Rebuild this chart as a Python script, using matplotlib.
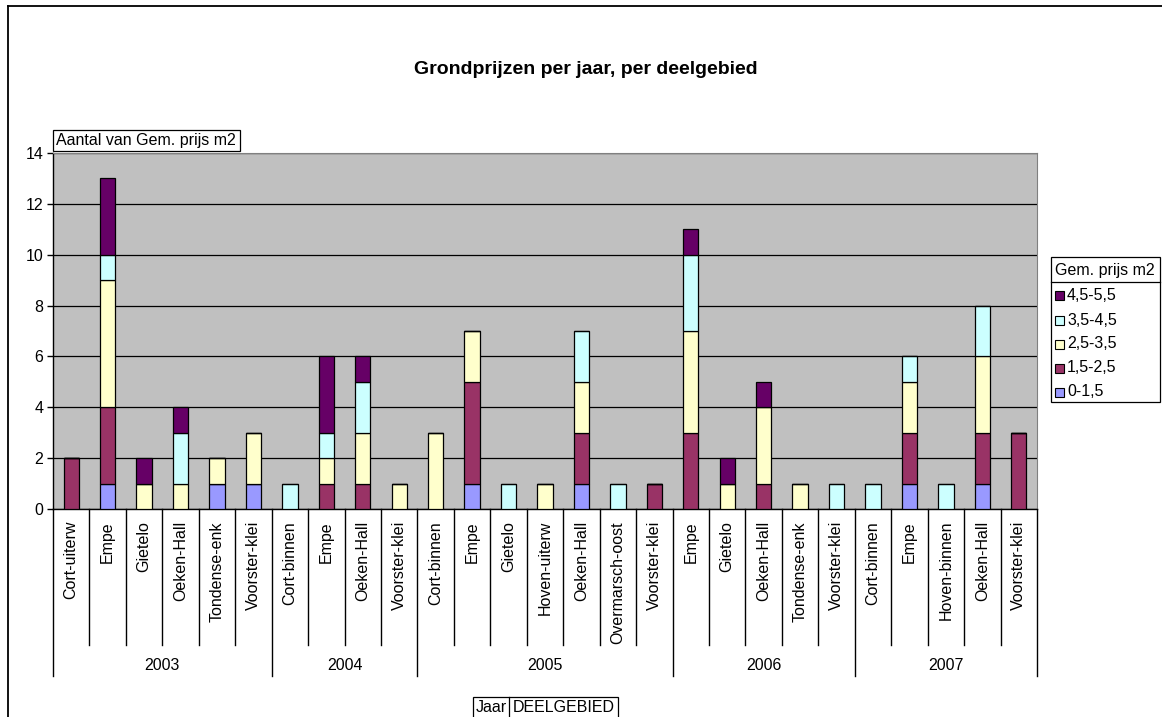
import matplotlib
matplotlib.use("Agg")
import matplotlib.pyplot as plt
import matplotlib.transforms as mtransforms
from matplotlib.patches import Rectangle
from matplotlib.lines import Line2D
import numpy as np

plt.rcParams['font.family'] = ['Liberation Sans', 'DejaVu Sans']

# Years and sub-areas (deelgebieden) per year
years = ['2003', '2004', '2005', '2006', '2007']
areas = [
    ['Cort-uiterw', 'Empe', 'Gietelo', 'Oeken-Hall', 'Tondense-enk', 'Voorster-klei'],
    ['Cort-binnen', 'Empe', 'Oeken-Hall', 'Voorster-klei'],
    ['Cort-binnen', 'Empe', 'Gietelo', 'Hoven-uiterw', 'Oeken-Hall', 'Overmarsch-oost', 'Voorster-klei'],
    ['Empe', 'Gietelo', 'Oeken-Hall', 'Tondense-enk', 'Voorster-klei'],
    ['Cort-binnen', 'Empe', 'Hoven-binnen', 'Oeken-Hall', 'Voorster-klei'],
]

# Price classes (stack order, bottom to top)
classes = ['0-1,5', '1,5-2,5', '2,5-3,5', '3,5-4,5', '4,5-5,5']
colors = ['#9999FF', '#993366', '#FFFFCC', '#CCFFFF', '#660066']

# Counts per class, one entry per (year, area) in the order above
cnt_0_15 = [0, 1, 0, 0, 1, 1,   0, 0, 0, 0,   0, 1, 0, 0, 1, 0, 0,   0, 0, 0, 0, 0,   0, 1, 0, 1, 0]
cnt_15_25 = [2, 3, 0, 0, 0, 0,  0, 1, 1, 0,   0, 4, 0, 0, 2, 0, 1,   3, 0, 1, 0, 0,   0, 2, 0, 2, 3]
cnt_25_35 = [0, 5, 1, 1, 1, 2,  0, 1, 2, 1,   3, 2, 0, 1, 2, 0, 0,   4, 1, 3, 1, 0,   0, 2, 0, 3, 0]
cnt_35_45 = [0, 1, 0, 2, 0, 0,  1, 1, 2, 0,   0, 0, 1, 0, 2, 1, 0,   3, 0, 0, 0, 1,   1, 1, 1, 2, 0]
cnt_45_55 = [0, 3, 1, 1, 0, 0,  0, 3, 1, 0,   0, 0, 0, 0, 0, 0, 0,   1, 1, 1, 0, 0,   0, 0, 0, 0, 0]
series = [cnt_0_15, cnt_15_25, cnt_25_35, cnt_35_45, cnt_45_55]

FS = 11.5
W, H = 1162, 717
fig = plt.figure(figsize=(W / 100, H / 100), dpi=100)

def fx(px):
    return px / W

def fy(py):
    return 1 - py / H

# Outer chart border
fig.add_artist(Line2D([fx(8), fx(8)], [fy(6), fy(717)], color='black', lw=1.3))
fig.add_artist(Line2D([fx(8), fx(1162)], [fy(6), fy(6)], color='black', lw=1.3))

# Plot area
left, right, top, bottom = 53, 1037, 153, 509
ax = fig.add_axes([fx(left), fy(bottom), fx(right - left), (bottom - top) / H])
ax.set_facecolor('#C0C0C0')

labels = [a for grp in areas for a in grp]
n = len(labels)
x = np.arange(n)
base = np.zeros(n)
for vals, col in zip(series, colors):
    v = np.array(vals, dtype=float)
    ax.bar(x, v, bottom=base, width=0.42, color=col, edgecolor='black', linewidth=0.9, zorder=3)
    base += v

ax.set_xlim(-0.5, n - 0.5)
ax.set_ylim(0, 14)
ax.set_yticks(np.arange(0, 15, 2))
ax.yaxis.grid(True, color='black', linewidth=0.9, zorder=1)
ax.set_axisbelow(True)
ax.tick_params(axis='y', direction='out', length=4, width=1, labelsize=FS, pad=3)
ax.set_xticks([])
for s in ['top', 'right']:
    ax.spines[s].set_color('#808080')
for s in ['left', 'bottom']:
    ax.spines[s].set_color('black')
    ax.spines[s].set_linewidth(1)

# Category axis: area labels, boundaries and year groups
trans = mtransforms.blended_transform_factory(ax.transData, ax.transAxes)
ph = bottom - top
y_cat = -(645 - bottom) / ph
y_grp = -(676 - bottom) / ph
y_lab = -(521 - bottom) / ph
y_year = -(665 - bottom) / ph

pos = 0
group_edges = [-0.5]
for grp in areas:
    pos += len(grp)
    group_edges.append(pos - 0.5)
for b in np.arange(-0.5, n, 1.0):
    low = y_grp if b in group_edges else y_cat
    ax.add_line(Line2D([b, b], [0, low], transform=trans, color='black', lw=1, clip_on=False))
for i, lab in enumerate(labels):
    ax.text(i, y_lab, lab, transform=trans, rotation=90, ha='center', va='top', fontsize=FS)
for yr, a, b in zip(years, group_edges[:-1], group_edges[1:]):
    ax.text((a + b) / 2, y_year, yr, transform=trans, ha='center', va='center', fontsize=FS)

# Title
fig.text(fx(586), fy(69), 'Grondprijzen per jaar, per deelgebied', ha='center', va='center',
         fontsize=14, fontweight='bold')

# Value field button
fig.add_artist(Rectangle((fx(53), fy(151)), fx(240 - 53), (151 - 130) / H, facecolor='white',
                         edgecolor='black', lw=0.9))
fig.text(fx(56), fy(141), 'Aantal van Gem. prijs m2', ha='left', va='center', fontsize=FS)

# Row field buttons
fig.add_artist(Rectangle((fx(473), fy(718)), fx(618 - 473), (718 - 697) / H, facecolor='white',
                         edgecolor='black', lw=0.9))
fig.add_artist(Line2D([fx(509), fx(509)], [fy(697), fy(718)], color='black', lw=0.9))
fig.text(fx(491), fy(708), 'Jaar', ha='center', va='center', fontsize=FS)
fig.text(fx(563.5), fy(708), 'DEELGEBIED', ha='center', va='center', fontsize=FS)

# Legend
lg_l, lg_r, lg_t, lg_b = 1051, 1160, 257, 402
fig.add_artist(Rectangle((fx(lg_l), fy(lg_b)), fx(lg_r - lg_l), (lg_b - lg_t) / H,
                         facecolor='white', edgecolor='black', lw=0.9))
fig.add_artist(Line2D([fx(lg_l), fx(lg_r)], [fy(282), fy(282)], color='black', lw=0.9))
fig.text(fx(1105), fy(270), 'Gem. prijs m2', ha='center', va='center', fontsize=FS)
entry_y = [295, 320, 344, 368, 392]
for yy, name, col in zip(entry_y, classes[::-1], colors[::-1]):
    fig.add_artist(Rectangle((fx(1055), fy(yy + 4.5)), fx(9), 9 / H, facecolor=col,
                             edgecolor='black', lw=0.8))
    fig.text(fx(1067), fy(yy), name, ha='left', va='center', fontsize=FS)

fig.savefig('out.png', dpi=100)
